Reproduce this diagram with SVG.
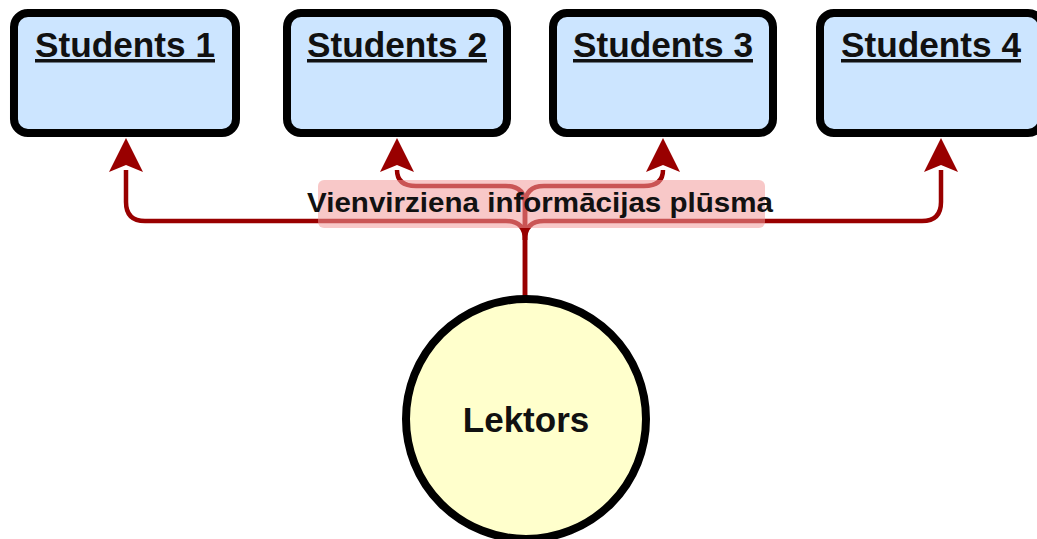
<svg xmlns="http://www.w3.org/2000/svg" width="1037" height="539" viewBox="0 0 1037 539">
<style>
.box{fill:#cce5ff;stroke:#000;stroke-width:8}
.ttl{font-family:"Liberation Sans",Arial,sans-serif;font-weight:bold;font-size:35px;fill:#111;text-anchor:middle;text-decoration:underline}
.conn{fill:none;stroke:#990000;stroke-width:4.5}
.head{fill:#990000}
.lbl{font-family:"Liberation Sans",Arial,sans-serif;font-weight:bold;font-size:28px;fill:#111;text-anchor:middle}
</style>
<rect width="1037" height="539" fill="#fff"/>
<g id="connectors">
<path class="conn" d="M525,296 V240 Q525,221 506,221 H145 Q126,221 126,202 V170" />
<path class="conn" d="M525,296 V240 Q525,221 544,221 H922 Q941,221 941,202 V170" />
<path class="conn" d="M525,240 V205 Q525,186 506,186 H416 Q397,186 397,170" />
<path class="conn" d="M525,240 V205 Q525,186 544,186 H644 Q663,186 663,170" />
<path class="head" d="M126,138 L143,172 L126,165 L109,172 Z"/>
<path class="head" d="M397,138 L414,172 L397,165 L380,172 Z"/>
<path class="head" d="M663,138 L680,172 L663,165 L646,172 Z"/>
<path class="head" d="M941,138 L958,172 L941,165 L924,172 Z"/>
<rect x="318" y="180" width="447" height="48" rx="6" fill="#f29a9a" fill-opacity="0.55"/>
<text class="lbl" x="540" y="212" textLength="466" lengthAdjust="spacingAndGlyphs">Vienvirziena informācijas plūsma</text>
</g>
<g id="students1">
<rect class="box" x="14" y="13" width="222" height="120" rx="14"/>
<text class="ttl" x="125" y="57" textLength="180" lengthAdjust="spacingAndGlyphs">Students 1</text>
</g>
<g id="students2">
<rect class="box" x="287" y="13" width="220" height="120" rx="14"/>
<text class="ttl" x="397" y="57" textLength="180" lengthAdjust="spacingAndGlyphs">Students 2</text>
</g>
<g id="students3">
<rect class="box" x="553" y="13" width="220" height="120" rx="14"/>
<text class="ttl" x="663" y="57" textLength="180" lengthAdjust="spacingAndGlyphs">Students 3</text>
</g>
<g id="students4">
<rect class="box" x="820" y="13" width="222" height="120" rx="14"/>
<text class="ttl" x="931" y="57" textLength="180" lengthAdjust="spacingAndGlyphs">Students 4</text>
</g>
<g id="lektors">
<circle cx="526" cy="419" r="120" fill="#ffffcc" stroke="#000" stroke-width="8"/>
<text x="526" y="432" font-family="Liberation Sans, Arial, sans-serif" font-weight="bold" font-size="35" fill="#111" text-anchor="middle">Lektors</text>
</g>
</svg>
